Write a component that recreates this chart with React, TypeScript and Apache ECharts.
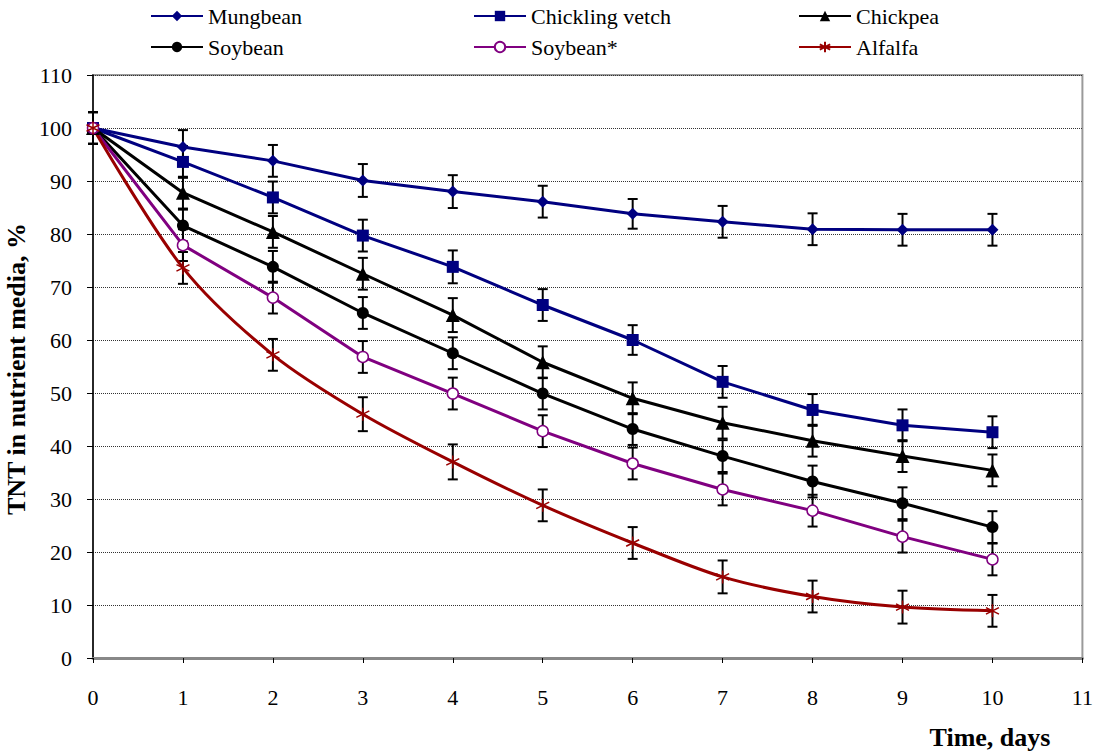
import React, { useEffect, useRef } from "react";
import * as echarts from "echarts";

const days = [0, 1, 2, 3, 4, 5, 6, 7, 8, 9, 10];

const mungbean = [100, 96.4, 93.8, 90.1, 88.0, 86.1, 83.8, 82.3, 80.9, 80.8, 80.8];
const chicklingVetch = [100, 93.6, 86.9, 79.7, 73.8, 66.6, 60.0, 52.1, 46.8, 43.9, 42.6];
const chickpea = [100, 87.8, 80.4, 72.5, 64.7, 55.8, 49.0, 44.4, 41.0, 38.1, 35.4];
const soybean = [100, 81.6, 73.8, 65.1, 57.5, 49.9, 43.2, 38.1, 33.3, 29.2, 24.7];
const soybeanStar = [100, 77.9, 68.0, 56.8, 49.9, 42.8, 36.7, 31.8, 27.8, 22.9, 18.6];
const alfalfa = [100, 73.6, 57.2, 46.0, 37.0, 28.8, 21.7, 15.3, 11.6, 9.6, 8.9];

const mungbeanErr = [3, 3.2, 3, 3.1, 3.1, 3, 2.8, 3, 3, 3, 3];
const chicklingVetchErr = [3, 3, 3, 3, 3.1, 3, 2.8, 3, 3, 3, 3];
const chickpeaErr = [3, 3, 3, 3, 3.2, 3, 3, 3, 3, 3, 3];
const soybeanErr = [3, 3, 3, 3, 3, 3, 3, 3, 3, 3, 3];
const soybeanStarErr = [3, 3, 3, 3, 3, 3, 3, 3, 3, 3, 3];
const alfalfaErr = [3, 3, 3, 3.2, 3.3, 3, 3, 3.1, 3, 3.1, 3];

const yTicks = [0, 10, 20, 30, 40, 50, 60, 70, 80, 90, 100, 110];
const xTicks = [0, 1, 2, 3, 4, 5, 6, 7, 8, 9, 10, 11];

const FONT = "Liberation Serif";
const NAVY = "#000080";
const PURPLE = "#800080";
const DARKRED = "#990000";
const ASTERISK = "path://M5,0L5,10M0.67,2.5L9.33,7.5M0.67,7.5L9.33,2.5";

const defs = [
  { name: "Mungbean", values: mungbean, err: mungbeanErr, color: NAVY, symbol: "diamond", size: 12, fill: NAVY, smooth: false },
  { name: "Chickling vetch", values: chicklingVetch, err: chicklingVetchErr, color: NAVY, symbol: "rect", size: 12, fill: NAVY, smooth: false },
  { name: "Chickpea", values: chickpea, err: chickpeaErr, color: "#000000", symbol: "triangle", size: 14, fill: "#000000", smooth: false },
  { name: "Soybean", values: soybean, err: soybeanErr, color: "#000000", symbol: "circle", size: 12, fill: "#000000", smooth: false },
  { name: "Soybean*", values: soybeanStar, err: soybeanStarErr, color: PURPLE, symbol: "circle", size: 11, fill: "#ffffff", smooth: false },
  { name: "Alfalfa", values: alfalfa, err: alfalfaErr, color: DARKRED, symbol: ASTERISK, size: 13, fill: DARKRED, smooth: 0.3 },
];

const legendPos = [
  { left: 150, top: 5 },
  { left: 473, top: 5 },
  { left: 798, top: 5 },
  { left: 150, top: 36 },
  { left: 473, top: 36 },
  { left: 798, top: 36 },
];

export default function App() {
  const ref = useRef<HTMLDivElement>(null);
  useEffect(() => {
    const chart = echarts.init(ref.current!, null, { renderer: "svg" });

    const errorSeries = defs.map((d) => ({
      type: "custom",
      name: d.name + " err",
      silent: true,
      z: 1,
      renderItem: (params: any, api: any) => {
        const x = api.value(0);
        const lo = api.coord([x, api.value(1)]);
        const hi = api.coord([x, api.value(2)]);
        const w = 5;
        const st = { stroke: "#000", lineWidth: 2 };
        return {
          type: "group",
          children: [
            { type: "line", shape: { x1: lo[0], y1: lo[1], x2: hi[0], y2: hi[1] }, style: st },
            { type: "line", shape: { x1: lo[0] - w, y1: lo[1], x2: lo[0] + w, y2: lo[1] }, style: st },
            { type: "line", shape: { x1: hi[0] - w, y1: hi[1], x2: hi[0] + w, y2: hi[1] }, style: st },
          ],
        };
      },
      data: days.map((x, i) => [x, d.values[i] - d.err[i], d.values[i] + d.err[i]]),
    }));

    const lineSeries = defs.map((d) => ({
      type: "line",
      name: d.name,
      z: 3,
      smooth: d.smooth,
      symbol: d.symbol,
      symbolSize: d.size,
      showAllSymbol: true,
      lineStyle: { color: d.color, width: 3 },
      itemStyle: {
        color: d.fill,
        borderColor: d.color,
        borderWidth: d.name === "Soybean*" ? 1.5 : d.name === "Alfalfa" ? 1.5 : 0,
      },
      data: days.map((x, i) => [x, d.values[i]]),
    }));

    const option: any = {
      animation: false,
      backgroundColor: "#ffffff",
      grid: {
        left: 93,
        right: 13,
        top: 75,
        bottom: 97,
        show: true,
        borderColor: "#9a9a9a",
        borderWidth: 2,
      },
      legend: defs.map((d, i) => ({
        data: [d.name],
        left: legendPos[i].left,
        top: legendPos[i].top,
        padding: 0,
        itemWidth: 52,
        itemHeight: 13,
        textStyle: { fontFamily: FONT, fontSize: 22, color: "#000" },
        selectedMode: false,
      })),
      xAxis: {
        type: "value",
        min: xTicks[0],
        max: xTicks[xTicks.length - 1],
        interval: 1,
        axisLine: { show: true, onZero: false, lineStyle: { color: "#888", width: 3 } },
        axisTick: { show: true, length: 5, lineStyle: { color: "#000", width: 1 } },
        axisLabel: { margin: 28, fontFamily: FONT, fontSize: 22, color: "#000" },
        splitLine: { show: false },
      },
      yAxis: {
        type: "value",
        min: yTicks[0],
        max: yTicks[yTicks.length - 1],
        interval: 10,
        axisLine: { show: true, lineStyle: { color: "#000", width: 1.5 } },
        axisTick: { show: true, length: 6, lineStyle: { color: "#000", width: 1 } },
        axisLabel: { margin: 21, fontFamily: FONT, fontSize: 22, color: "#000" },
        splitLine: { show: true, lineStyle: { color: "#333", width: 1, type: "dotted" } },
      },
      graphic: [
        {
          type: "text",
          x: 16,
          y: 369,
          rotation: Math.PI / 2,
          style: {
            text: "TNT in nutrient media, %",
            fontFamily: FONT,
            fontWeight: "bold",
            fontSize: 26,
            fill: "#000",
            align: "center",
            verticalAlign: "middle",
          },
        },
        {
          type: "text",
          x: 990,
          y: 737,
          style: {
            text: "Time, days",
            fontFamily: FONT,
            fontWeight: "bold",
            fontSize: 26,
            fill: "#000",
            align: "center",
            verticalAlign: "middle",
          },
        },
      ],
      series: [...errorSeries, ...lineSeries],
    };
    chart.setOption(option);
    return () => chart.dispose();
  }, []);
  return (
    <div
      ref={ref}
      style={{ width: 1096, height: 755, position: "absolute", left: 0, top: 0, background: "#fff" }}
    />
  );
}
